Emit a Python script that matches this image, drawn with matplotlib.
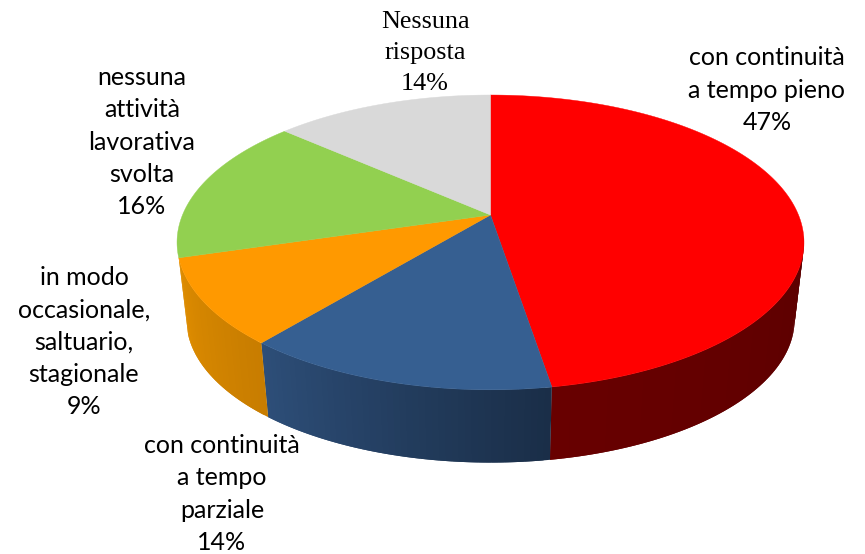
import numpy as np
import matplotlib
matplotlib.use("Agg")
import matplotlib.pyplot as plt

# Data (clockwise from the top of the pie)
labels = ["con continuità\na tempo pieno", "con continuità\na tempo\nparziale",
          "in modo\noccasionale,\nsaltuario,\nstagionale", "nessuna\nattività\nlavorativa\nsvolta",
          "Nessuna\nrisposta"]
percent_labels = ["47%", "14%", "9%", "16%", "14%"]
shares = [47.4, 13.6, 9.4, 16.1, 13.5]
top_colors = ["#ff0000", "#365f91", "#ff9900", "#92d050", "#d9d9d9"]
side_left = ["#680000", "#2d4e78", "#de8c00", None, None]
side_right = ["#5c0000", "#1a2e48", "#c87d00", None, None]
label_pos = [(767, 90), (222, 494), (84, 342), (142, 142), (425, 53)]
label_fonts = ["Lato", "Lato", "Lato", "Lato", "Liberation Serif"]
label_sizes = [18.0, 18.0, 18.0, 18.0, 18.8]
label_spacing = [1.48, 1.48, 1.48, 1.48, 1.52]

# Projection of the tilted disc, in figure pixels
CX, CY, A, B, K = 490.5, 215.0, 308.0, 142.3, 0.186
SCALE, DROP = 0.97, 78.0


def top_rim(deg):
    t = np.radians(deg)
    u, v = np.sin(t), np.cos(t)
    d = 1 + K * v
    return CX + A * u / d, CY - B * v / d


def low_rim(deg):
    x, y = top_rim(deg)
    return CX + SCALE * (x - CX), CY + DROP + SCALE * (y - CY)


def hex_rgb(c):
    return np.array(matplotlib.colors.to_rgb(c))


fig = plt.figure(figsize=(8.65, 5.54), dpi=100)
ax = fig.add_axes([0, 0, 1, 1])
ax.set_xlim(0, 865)
ax.set_ylim(554, 0)
ax.axis("off")

edges = np.concatenate([[0], np.cumsum(shares)]) / np.sum(shares) * 360
VIS_L = 98.0

# Side wall, drawn as overlapping shaded strips so that no seams show
for i in range(len(shares)):
    if side_left[i] is None:
        continue
    a0, a1 = max(edges[i], VIS_L), edges[i + 1]
    n = max(int(a1 - a0), 1)
    steps = np.linspace(a0, a1, n + 1)
    for j in range(n):
        f = j / max(n - 1, 1)
        col = hex_rgb(side_left[i]) * f + hex_rgb(side_right[i]) * (1 - f)
        arc = np.linspace(steps[j], steps[min(j + 2, n)], 6)
        tx, ty = top_rim(arc)
        lx, ly = low_rim(arc[::-1])
        ax.fill(np.r_[tx, lx], np.r_[ty, ly], facecolor=col, edgecolor="none", zorder=2)

# Top face
for i in range(len(shares)):
    th = np.linspace(edges[i], edges[i + 1], 200)
    x, y = top_rim(th)
    ax.fill(np.r_[CX, x], np.r_[CY, y], facecolor=top_colors[i], edgecolor=top_colors[i],
            lw=0.3, zorder=3)

# Labels
for lab, pct, pos, fam, size, sp in zip(labels, percent_labels, label_pos, label_fonts,
                                        label_sizes, label_spacing):
    ax.text(pos[0], pos[1], lab + "\n" + pct, ha="center", va="center", family=fam, fontsize=size,
            color="black", linespacing=sp, zorder=5)

fig.savefig("out.png", dpi=100)
